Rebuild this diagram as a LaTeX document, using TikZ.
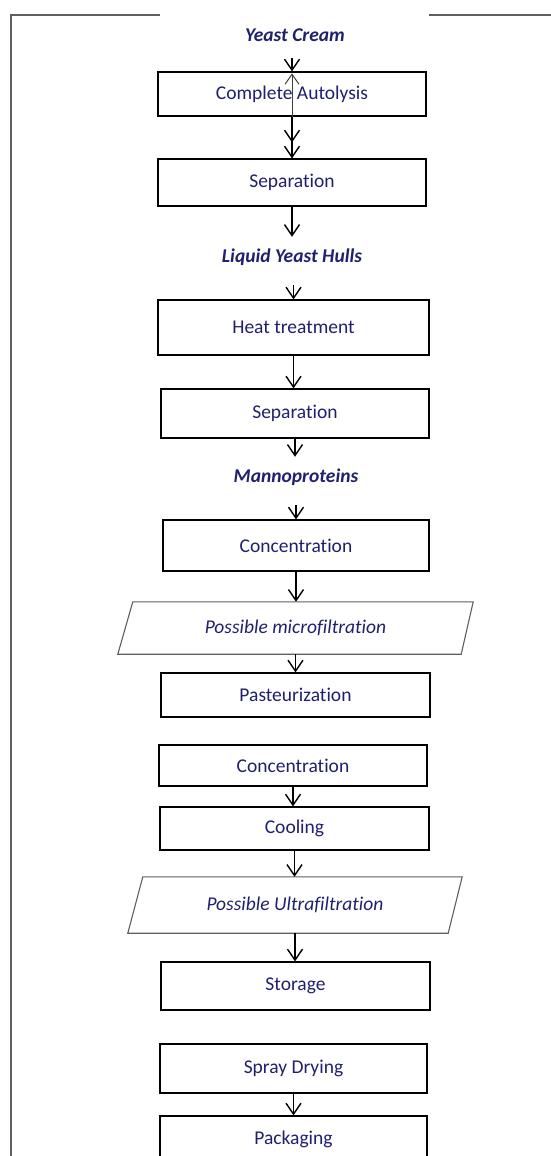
\documentclass[tikz,border=0pt]{standalone}
\usepackage{fontspec}
\setmainfont[Ligatures=NoCommon]{Carlito}
\usetikzlibrary{arrows.meta,calc}
\definecolor{navy}{RGB}{32,32,112}
\definecolor{framegray}{RGB}{95,95,95}
\tikzset{
  box/.style={draw=black,line width=1.2pt,rectangle,inner sep=0pt,font=\fontsize{19.5}{21}\selectfont,text=navy},
  lbl/.style={inner sep=0pt,minimum height=40pt,font=\fontsize{19.5}{21}\selectfont\bfseries\itshape,text=navy},
  para/.style={inner sep=0pt,font=\fontsize{19.5}{21}\selectfont\itshape,text=navy},
  paraline/.style={draw=framegray,line width=1.1pt},
  arr/.style={-{Straight Barb[length=11pt,width=15pt,line width=1.4pt]},line width=1.4pt,black},
  thinarr/.style={-{Straight Barb[length=10pt,width=14pt,line width=1pt]},line width=0.9pt,black!75},
  frameline/.style={draw=framegray,line width=1.6pt}
}
\begin{document}
\begin{tikzpicture}[x=1pt,y=-1pt]
\useasboundingbox (0,0) rectangle (551,1156);
\fill[white] (0,0) rectangle (551,1156);
% frame
\draw[frameline] (160,15) -- (11,15) -- (11,1160);
\draw[frameline] (429,15) -- (553,15);

\node[lbl] (yc) at (295,35) {Yeast Cream};
\node[box,minimum width=268pt,minimum height=44pt] (ca) at (292,94) {Complete Autolysis};
\node[box,minimum width=268pt,minimum height=47pt] (sep1) at (292,182.5) {Separation};
\node[lbl] (lyh) at (292,257) {Liquid Yeast Hulls};
\node[box,minimum width=271pt,minimum height=55pt] (heat) at (293.5,327.5) {Heat treatment};
\node[box,minimum width=268pt,minimum height=49pt] (sep2) at (295,413.5) {Separation};
\node[lbl] (mann) at (296,477) {Mannoproteins};
\node[box,minimum width=266pt,minimum height=51pt] (conc) at (296,545.5) {Concentration};
\node[para,minimum width=355pt,minimum height=52pt] (pm) at (295.5,628) {Possible microfiltration};
\draw[paraline] (pm.south west) -- ([xshift=15pt]pm.north west) -- (pm.north east) -- ([xshift=-12pt]pm.south east) -- cycle;
\node[box,minimum width=269pt,minimum height=44pt] (past) at (295.5,695) {Pasteurization};
\node[box,minimum width=268pt,minimum height=41pt] (conc2) at (293,765.5) {Concentration};
\node[box,minimum width=269pt,minimum height=43pt] (cool) at (294.5,828.5) {Cooling};
\node[para,minimum width=334pt,minimum height=56pt] (pu) at (295,905) {Possible Ultrafiltration};
\draw[paraline] (pu.south west) -- ([xshift=15pt]pu.north west) -- (pu.north east) -- ([xshift=-14pt]pu.south east) -- cycle;
\node[box,minimum width=269pt,minimum height=48pt] (stor) at (295.5,986) {Storage};
\node[box,minimum width=267pt,minimum height=49pt] (spray) at (293.5,1068.5) {Spray Drying};
\node[box,minimum width=267pt,minimum height=46pt] (pack) at (293.5,1139) {Packaging};

% connectors
\draw[arr,shorten <=3pt] (yc.south -| ca.north) -- (ca.north);
\draw[thinarr] (sep1.north) -- ([yshift=-2pt]ca.north);
\draw[arr] (ca.south) -- ([yshift=16pt]sep1.north);
\draw[arr] (ca.south) -- (sep1.north);
\draw[arr] (sep1.south) -- (sep1.south |- lyh.north);
\draw[arr,shorten <=8pt] (lyh.south -| heat.north) -- (heat.north);
\draw[arr] (heat.south) -- (heat.south |- sep2.north);
\draw[arr] (sep2.south) -- (sep2.south |- mann.north);
\draw[arr,shorten <=8pt] (mann.south) -- (mann.south |- conc.north);
\draw[arr] (conc.south) -- (conc.south |- pm.north);
\draw[arr] (pm.south) -- (pm.south |- past.north);
\draw[arr] (conc2.south) -- (conc2.south |- cool.north);
\draw[arr] (cool.south) -- (cool.south |- pu.north);
\draw[arr] (pu.south) -- (pu.south |- stor.north);
\draw[arr] (spray.south) -- (spray.south |- pack.north);
\end{tikzpicture}
\end{document}
